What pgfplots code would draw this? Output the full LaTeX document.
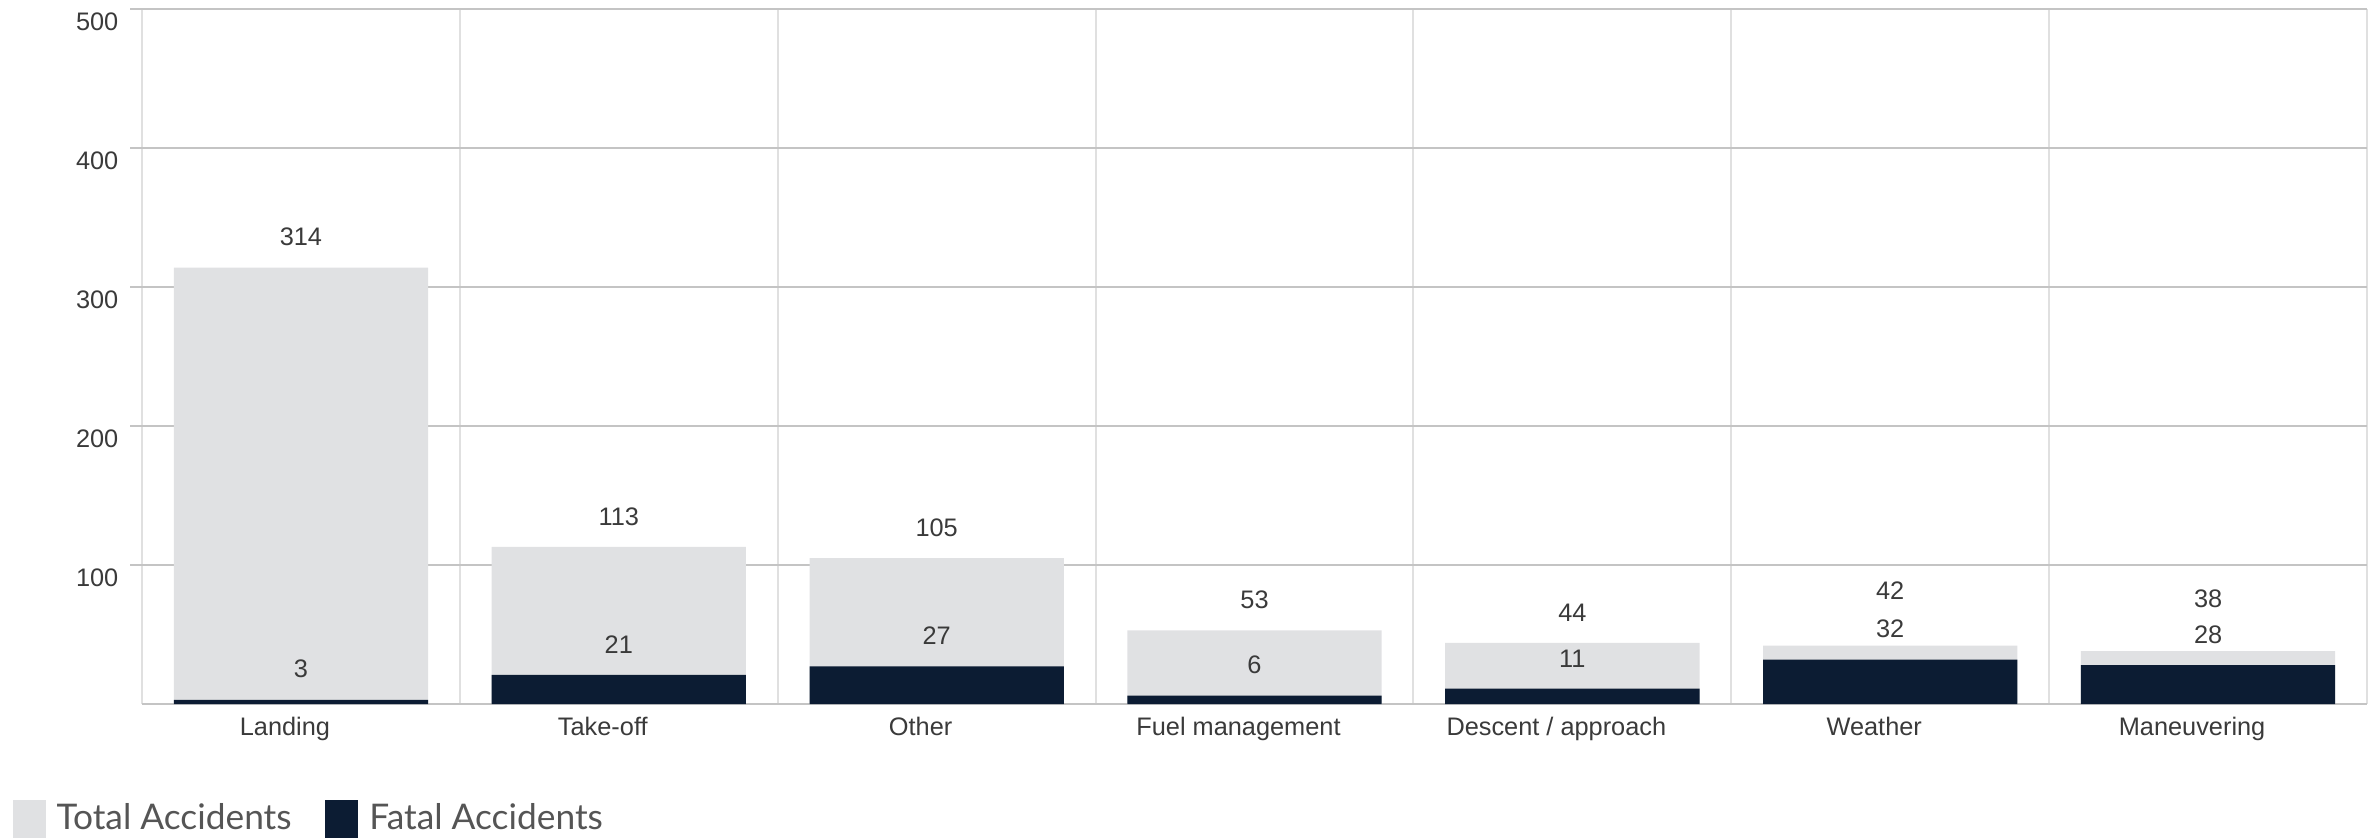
\documentclass[border=0pt]{standalone}
\usepackage{fontspec}
\setmainfont{Liberation Sans}
\newfontfamily\legendfont{Lato}
\usepackage{pgfplots}
\usepackage{pgfplotstable}
\pgfplotsset{compat=1.18}
\definecolor{totcol}{HTML}{E0E1E3}
\definecolor{fatcol}{HTML}{0C1C33}
\definecolor{hgrid}{HTML}{C4C4C4}
\definecolor{vgrid}{HTML}{E0E0E0}
\definecolor{txt}{HTML}{3A3A3A}
\definecolor{legtxt}{HTML}{555555}

\pgfplotstableread{
x total fatal dy
0 314 3  0
1 113 21 0
2 105 27 0
3 53  6  0
4 44  11 0
5 42  32 7.2
6 38  28 6.6
}\datatable

\begin{document}
\begin{tikzpicture}
\useasboundingbox (-42.6pt,-40.2pt) rectangle (671.1pt,211.2pt);
\begin{axis}[
  at={(0pt,0pt)}, anchor=south west,
  scale only axis, width=667.5pt, height=208.5pt,
  xmin=-0.5, xmax=6.5, ymin=0, ymax=500,
  ytick={100,200,300,400,500},
  xtick={0,...,6},
  xticklabels={Landing,Take-off,Other,Fuel management,Descent / approach,Weather,Maneuvering},
  minor xtick={-0.5,0.5,...,6.5},
  xminorgrids=true, ymajorgrids=true, xmajorgrids=false,
  minor x grid style={draw=vgrid, line width=0.6pt},
  major y grid style={draw=hgrid, line width=0.6pt},
  axis x line*=bottom, axis y line*=left,
  y axis line style={draw=none},
  x axis line style={draw=hgrid, line width=0.6pt, -},
  tick align=outside,
  xtick style={draw=none},
  minor tick length=0pt,
  ytick style={draw=hgrid, line width=0.6pt},
  major tick length=3.6pt,
  /pgf/number format/assume math mode=true,
  tick label style={font=\fontsize{7.6}{9}\selectfont, text=txt},
  yticklabel style={anchor=north east, inner sep=0pt, xshift=-3.3pt, yshift=-1pt},
  xticklabel style={anchor=north, inner sep=0pt, yshift=0pt, xshift=-4.8pt},
  legend style={at={(axis description cs:-0.0585,-0.1655)}, anchor=west, draw=none, fill=none, inner sep=0pt,
    font=\legendfont\fontsize{10.6}{12}\selectfont, text=legtxt,
    /tikz/every even column/.append style={column sep=8.1pt}},
  legend columns=2,
  legend cell align=left,
]
\addplot[ybar, bar width=0.8, bar shift=0pt, fill=totcol, draw=none,
  legend image code/.code={\fill[totcol] (0pt,-5.7pt) rectangle (9.9pt,5.7pt); \path (11.2pt,0pt);},
  nodes near coords,
  visualization depends on={\thisrow{dy} \as \dy},
  every node near coord/.append style={anchor=south, inner sep=0pt, yshift={6.3pt+\dy*1pt},
    font=\fontsize{7.6}{9}\selectfont, text=txt}]
  table[x=x, y=total] {\datatable};
\addlegendentry{Total Accidents}
\addplot[ybar, bar width=0.8, bar shift=0pt, fill=fatcol, draw=none,
  legend image code/.code={\fill[fatcol] (0pt,-5.7pt) rectangle (9.9pt,5.7pt); \path (11.2pt,0pt);},
  nodes near coords,
  every node near coord/.append style={anchor=south, inner sep=0pt, yshift=6.3pt,
    font=\fontsize{7.6}{9}\selectfont, text=txt}]
  table[x=x, y=fatal] {\datatable};
\addlegendentry{Fatal Accidents}
\end{axis}
\end{tikzpicture}
\end{document}
